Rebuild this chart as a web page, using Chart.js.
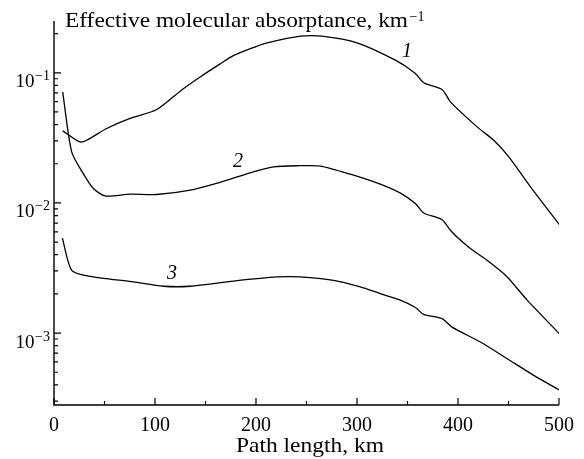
<!DOCTYPE html>
<html><head><meta charset="utf-8">
<script src="https://cdn.jsdelivr.net/npm/chart.js@4/dist/chart.umd.min.js"></script>
<style>html,body{margin:0;padding:0;background:#fff}canvas{display:block}</style>
</head><body>
<canvas id="c" width="584" height="459"></canvas>
<script>
// ---- data ----
const curve1X = [8.6, 25.8, 32.4, 52.2, 75.3, 101.8, 124.9, 145, 164.5, 178, 200, 211, 244, 265, 300, 338, 357.8, 366, 384.2, 392.5, 418.9, 435.4, 450.3, 471.8, 500.8];
const curve1Y = [0.0358, 0.0294, 0.0303, 0.0373, 0.0446, 0.0522, 0.0722, 0.0931, 0.117, 0.136, 0.159, 0.170, 0.191, 0.191, 0.170, 0.125, 0.0989, 0.0838, 0.0745, 0.0598, 0.0384, 0.0303, 0.0226, 0.0133, 0.00673];

const curve2X = [8.6, 17.5, 29, 39, 50.5, 75, 101.7, 135, 164.5, 177.7, 197.5, 217.3, 240.5, 263.6, 293.4, 323, 343, 357.8, 366, 384.2, 392.5, 399, 412.3, 428.8, 448.7, 468.5, 500.8];
const curve2Y = [0.0714, 0.0247, 0.0168, 0.0129, 0.01133, 0.01167, 0.01161, 0.01253, 0.0144, 0.0155, 0.0173, 0.0189, 0.0193, 0.0192, 0.01663, 0.01393, 0.01188, 0.00989, 0.00837, 0.00743, 0.00617, 0.00547, 0.00446, 0.00362, 0.0027, 0.00179, 0.00098];

const curve3X = [8.3, 17.5, 34, 78.6, 108.4, 134.8, 177.7, 220.7, 243.8, 276.8, 303.3, 323, 342.9, 357.8, 366, 384.2, 394.1, 422.2, 448.7, 475, 500.8];
const curve3Y = [0.00535, 0.00303, 0.00274, 0.00247, 0.00229, 0.00229, 0.00251, 0.0027, 0.0027, 0.00254, 0.00226, 0.00201, 0.00179, 0.00157, 0.00139, 0.00129, 0.00111, 0.000853, 0.000635, 0.000473, 0.000363];

const xMajorTicks = [0, 100, 200, 300, 400, 500];
const xTickLabels = ['0', '100', '200', '300', '400', '500'];
const xMinorTicks = [50, 150, 250, 350, 450];
const yMajorTicks = [1e-1, 1e-2, 1e-3];
const yTickBase = ['10', '10', '10'];
const yTickExp = ['\u22121', '\u22122', '\u22123'];
const curveLabels = ['1', '2', '3'];
const curveLabelX = [349.5, 182.2, 116.8];
const curveLabelY = [0.144, 0.0208, 0.00288];
const yTitleText = 'Effective molecular absorptance, km';
const yTitleExp = '\u22121';
const xTitleText = 'Path length, km';

const toPts = (xs, ys) => xs.map((x, i) => ({x: x, y: ys[i]}));
const SERIF = '"Liberation Serif", "Times New Roman", serif';

function fitText(ctx, str, x, y, font, targetW) {
  ctx.font = font;
  const w = ctx.measureText(str).width;
  const s = targetW / w;
  ctx.save();
  ctx.translate(x, y);
  ctx.scale(s, 1);
  ctx.textAlign = 'left';
  ctx.fillText(str, 0, 0);
  ctx.restore();
}

const axesPlugin = {
  id: 'sciAxes',
  afterDraw(chart) {
    const ctx = chart.ctx;
    const xs = chart.scales.x, ys = chart.scales.y;
    const L = xs.getPixelForValue(0), R = xs.getPixelForValue(500);
    const T = chart.chartArea.top, B = chart.chartArea.bottom;
    ctx.save();
    ctx.strokeStyle = '#000';
    ctx.fillStyle = '#000';
    ctx.lineWidth = 1.4;
    ctx.beginPath();
    ctx.moveTo(L, T); ctx.lineTo(L, B); ctx.lineTo(R, B);
    ctx.stroke();
    ctx.lineWidth = 1.2;
    ctx.beginPath();
    xMajorTicks.forEach(v => { const p = xs.getPixelForValue(v); ctx.moveTo(p, B); ctx.lineTo(p, B - 7); });
    xMinorTicks.forEach(v => { const p = xs.getPixelForValue(v); ctx.moveTo(p, B); ctx.lineTo(p, B - 4); });
    yMajorTicks.forEach(v => { const p = ys.getPixelForValue(v); ctx.moveTo(L, p); ctx.lineTo(L + 7, p); });
    for (let d = -4; d <= -1; d++) {
      for (let k = 2; k <= 9; k++) {
        const v = k * Math.pow(10, d);
        if (v < ys.min || v > ys.max) continue;
        const p = ys.getPixelForValue(v);
        ctx.moveTo(L, p); ctx.lineTo(L + 4, p);
      }
    }
    ctx.stroke();

    // x tick labels
    ctx.font = '20px ' + SERIF;
    ctx.textAlign = 'center';
    ctx.textBaseline = 'alphabetic';
    xMajorTicks.forEach((v, i) => ctx.fillText(xTickLabels[i], xs.getPixelForValue(v), B + 26));

    // y tick labels 10^-n
    yMajorTicks.forEach((v, i) => {
      const p = ys.getPixelForValue(v);
      ctx.font = '14px ' + SERIF;
      ctx.textAlign = 'right';
      const supW = ctx.measureText(yTickExp[i]).width;
      ctx.fillText(yTickExp[i], L - 4, p + 7.5);
      ctx.font = '19px ' + SERIF;
      ctx.fillText(yTickBase[i], L - 4 - supW - 0.5, p + 14.5);
    });

    // y title (top)
    ctx.textBaseline = 'alphabetic';
    fitText(ctx, yTitleText, 65, 27, '21px ' + SERIF, 343);
    ctx.font = '14px ' + SERIF;
    ctx.textAlign = 'left';
    ctx.fillText(yTitleExp, 409.5, 20.5);

    // x title
    fitText(ctx, xTitleText, 236, 452, '22px ' + SERIF, 148);

    // curve labels
    ctx.font = 'italic 20px ' + SERIF;
    ctx.textAlign = 'center';
    ctx.textBaseline = 'middle';
    curveLabels.forEach((t, i) => ctx.fillText(t, xs.getPixelForValue(curveLabelX[i]), ys.getPixelForValue(curveLabelY[i])));
    ctx.restore();
  }
};

const ds = (pts) => ({
  data: pts, borderColor: '#000', borderWidth: 1.3, pointRadius: 0,
  fill: false, tension: 0.25
});

new Chart(document.getElementById('c'), {
  type: 'line',
  data: { datasets: [ds(toPts(curve1X, curve1Y)), ds(toPts(curve2X, curve2Y)), ds(toPts(curve3X, curve3Y))] },
  options: {
    responsive: false, devicePixelRatio: 1, animation: false, events: [],
    layout: { padding: { left: 54, right: 25, top: 21, bottom: 54 } },
    plugins: { legend: { display: false }, tooltip: { enabled: false }, title: { display: false } },
    scales: {
      x: { type: 'linear', min: 0, max: 500, display: false },
      y: { type: 'logarithmic', min: 2.8e-4, max: 0.25, display: false }
    }
  },
  plugins: [axesPlugin]
});
</script>
</body></html>
